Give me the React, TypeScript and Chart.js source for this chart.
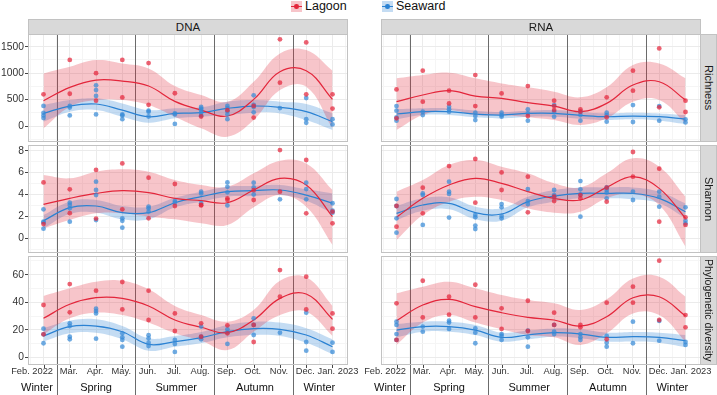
import React, { useEffect, useRef } from "react";
import { Chart, registerables } from "chart.js";
Chart.register(...registerables);

const FONT = "'Liberation Sans', Arial, Helvetica, sans-serif";

// ---------- categories / labels ----------
const months = ["Feb. 2022", "Mar.", "Apr.", "May.", "Jun.", "Jul.", "Aug.", "Sep.", "Oct.", "Nov.", "Dec.", "Jan. 2023"];
const monthIdx = months.map((_, i) => i);
const xMinor = [-0.5, 0.5, 1.5, 2.5, 3.5, 4.5, 5.5, 6.5, 7.5, 8.5, 9.5, 10.5, 11.5];
const seasons = ["Winter", "Spring", "Summer", "Autumn", "Winter"];
const seasonCenters = [-0.25, 2, 5.05, 8.05, 10.5];
const seasonBreaks = [0.52, 3.5, 6.5, 9.5];
const sites = ["Lagoon", "Seaward"];
const columns = ["DNA", "RNA"];
const rows = ["Richness", "Shannon", "Phylogenetic diversity"];

// ---------- y tick labels ----------
const richTicks = [0, 500, 1000, 1500];
const richMinor = [-250, 250, 750, 1250];
const shanTicks = [0, 2, 4, 6, 8];
const shanMinor = [-1, 1, 3, 5, 7];
const phyTicks = [0, 20, 40, 60];
const phyMinor = [10, 30, 50, 70];

// ---------- DNA Richness ----------
const dnaRichLagoonPts = [[600], [1250, 610], [1000, 480], [1250, 540], [1190, 400], [620], [180], [300], [380, 160], [1640, 820], [1580, 600], [600, 330]];
const dnaRichSeawardPts = [[380, 250, 200, 150], [380, 350, 200], [770, 680, 570, 220], [220, 200, 130], [290, 270, 180], [240, 220, 40], [360, 330, 300, 250, 200], [380, 340, 280, 220, 130], [580, 400, 360, 260], [340], [530, 130, 60], [130, 30]];
const dnaRichLagoonFit = [479, 731, 869, 850, 756, 466, 302, 189, 504, 1027, 1046, 504];
const dnaRichLagoonUp = [995, 1121, 1247, 1184, 1090, 756, 586, 460, 838, 1373, 1436, 1046];
const dnaRichLagoonLo = [-44, 365, 491, 491, 397, 176, -44, -202, 113, 680, 743, -44];
const dnaRichSeawardFit = [240, 378, 416, 302, 176, 240, 252, 334, 378, 353, 271, 82];
const dnaRichSeawardUp = [397, 491, 523, 428, 302, 334, 353, 460, 491, 460, 416, 239];
const dnaRichSeawardLo = [82, 271, 302, 176, 63, 145, 176, 208, 252, 239, 113, -76];

// ---------- RNA Richness ----------
const rnaRichLagoonPts = [[693, 145], [1046, 460], [668, 428], [964, 378], [617], [756, 189], [479, 378, 302], [315, 271], [542, 164], [1046, 668], [1468, 353], [479, 265]];
const rnaRichSeawardPts = [[378, 290, 164, 101], [271, 208], [365, 315, 271], [252, 189, 113], [252, 208, 176], [315, 240, 101], [397, 271, 176], [271, 208, 101], [252, 208, 82], [397, 76], [378, 101], [126, 69]];
const rnaRichLagoonFit = [460, 586, 668, 567, 523, 441, 378, 271, 428, 775, 838, 491];
const rnaRichLagoonUp = [901, 964, 1008, 901, 806, 731, 649, 542, 731, 1153, 1184, 901];
const rnaRichLagoonLo = [-76, 208, 302, 208, 208, 164, 113, 19, 145, 460, 491, 50];
const rnaRichSeawardFit = [227, 271, 271, 227, 208, 240, 240, 202, 176, 189, 176, 132];
const rnaRichSeawardUp = [315, 334, 334, 290, 265, 290, 302, 265, 239, 252, 239, 208];
const rnaRichSeawardLo = [126, 208, 208, 164, 145, 176, 176, 139, 113, 126, 101, 38];

// ---------- DNA Shannon ----------
const dnaShanLagoonPts = [[5.1, 1.3], [4.47, 2.3], [6.24, 1.8], [6.84, 2.65], [5.54, 1.83], [4.96, 2.95], [3.0, 3.05], [3.65, 3.5], [4.4, 3.5], [8.06, 4.26], [7.15, 2.28], [2.43, 1.37]];
const dnaShanSeawardPts = [[2.65, 1.52, 1.45, 0.88], [3.25, 3.04, 2.74, 1.52], [5.17, 4.41, 3.95, 1.67], [1.83, 1.6, 0.97], [2.9, 2.74, 2.43], [3.4, 3.25], [4.26, 4.1, 3.2], [5.1, 4.7, 4.2, 3.0], [5.08, 4.65, 4.0], [3.56], [5.08, 4.5, 3.56], [3.2, 2.52, 2.34]];
const dnaShanLagoonFit = [3.1, 3.65, 4.1, 4.35, 4.17, 3.65, 3.44, 3.25, 4.41, 5.48, 4.87, 1.98];
const dnaShanLagoonUp = [5.78, 5.48, 6.08, 6.3, 6.08, 5.32, 4.87, 4.71, 5.93, 7.09, 6.84, 4.41];
const dnaShanLagoonLo = [0.91, 1.67, 2.28, 2.28, 1.98, 1.73, 1.37, 1.22, 2.83, 3.95, 2.89, -0.6];
const dnaShanSeawardFit = [1.61, 2.8, 2.95, 2.34, 2.34, 3.25, 3.8, 4.26, 4.35, 4.41, 3.95, 3.2];
const dnaShanSeawardUp = [2.13, 3.35, 3.5, 2.95, 2.89, 3.71, 4.26, 4.71, 4.78, 4.87, 4.47, 4.1];
const dnaShanSeawardLo = [0.91, 2.22, 2.34, 1.73, 1.73, 2.83, 3.35, 3.8, 3.86, 3.95, 3.44, 2.28];

// ---------- RNA Shannon ----------
const rnaShanLagoonPts = [[2.95, 1.06], [4.62, 2.28], [6.6], [7.24, 3.25], [6.02, 4.41], [5.63, 2.37], [3.8, 3.4], [3.95, 3.65], [4.62, 3.35], [7.88, 5.63], [6.36, 1.52], [1.92, 1.22]];
const rnaShanSeawardPts = [[3.59, 2.95, 1.83, 0.52], [4.1, 3.95, 1.22], [5.17, 4.26, 4.05, 1.89], [2.13, 1.92, 1.16, 0.85], [3.13, 2.83, 2.04, 1.83], [4.5, 3.4, 3.13], [4.41, 3.95, 3.8], [5.23, 4.47, 4.0, 1.98], [4.65, 4.41, 4.17, 3.65], [4.26, 3.5], [4.26, 3.8, 2.89], [2.83, 1.61, 1.37]];
const rnaShanLagoonFit = [1.92, 3.65, 4.87, 5.48, 5.02, 4.26, 3.65, 3.5, 4.65, 5.63, 4.56, 1.83];
const rnaShanLagoonUp = [4.26, 5.32, 6.69, 7.15, 6.54, 5.93, 5.02, 4.65, 5.93, 7.3, 6.54, 3.8];
const rnaShanLagoonLo = [-0.15, 2.13, 3.35, 3.8, 3.5, 2.74, 2.34, 2.43, 3.65, 4.05, 3.04, -0.76];
const rnaShanSeawardFit = [2.28, 3.04, 3.19, 2.34, 2.22, 3.35, 3.86, 4.1, 4.1, 4.1, 3.65, 2.43];
const rnaShanSeawardUp = [2.95, 3.65, 3.74, 2.89, 2.74, 3.8, 4.41, 4.65, 4.65, 4.65, 4.26, 3.19];
const rnaShanSeawardLo = [1.67, 2.52, 2.65, 1.73, 1.61, 2.83, 3.35, 3.65, 3.65, 3.56, 3.2, 1.83];

// ---------- DNA Phylogenetic diversity ----------
const dnaPhyLagoonPts = [[38, 16.7], [53.2, 32.7], [48.4], [54.7, 34.8], [48.4, 27.1], [31.9, 19.1], [24.7, 15], [23.2, 17.4], [23.5, 11.1], [63.4, 44], [58.6, 34.8], [31.9, 20.8]];
const dnaPhySeawardPts = [[20.8, 16.7, 10.2], [24.7, 22.7, 15, 13.1], [35.3, 33.6, 31.9, 13.5], [17.4, 14.5, 12.6, 7.7], [16, 13.8, 10.6, 8.2], [12.6, 9.7, 3.9], [22.3, 15, 13.1], [20.3, 18.1, 9.7], [28.3, 23.5, 16.2], [17.9], [32.4, 11.1, 4.8], [10.6, 3.9]];
const dnaPhyLagoonFit = [28.3, 38.5, 43.3, 42.8, 37.3, 27.1, 21.8, 17.9, 27.1, 42.8, 46, 27.6];
const dnaPhyLagoonUp = [44.5, 50.1, 54.9, 55.6, 49.4, 37.3, 30.7, 25.9, 34.4, 55.6, 58.1, 37.3];
const dnaPhyLagoonLo = [16.7, 28.3, 32.4, 30.7, 25.2, 17.4, 12.1, 5.3, 18.6, 30.7, 33.1, 15.5];
const dnaPhySeawardFit = [15.5, 22.3, 22.7, 18.6, 9.4, 11.4, 14.3, 18.6, 20.8, 20.3, 16.2, 7.7];
const dnaPhySeawardUp = [21.3, 26.6, 27.6, 22.7, 13.8, 15.5, 18.4, 23.5, 25.9, 25.2, 21.1, 13.1];
const dnaPhySeawardLo = [11.4, 17.4, 17.9, 13.1, 4.8, 7.7, 10.2, 14.5, 16.2, 15.5, 10.6, 2.4];

// ---------- RNA Phylogenetic diversity ----------
const rnaPhyLagoonPts = [[39.2, 12.6], [55.6, 29], [44, 31], [52.7, 29], [35.6, 20.6], [41.1, 19.1], [32.4, 23.5], [23.5, 21.8], [39.7, 13.1], [51.3, 39.7], [70.2, 27.1], [30.7, 21.8]];
const rnaPhySeawardPts = [[25.9, 23.5, 16.9, 12.6], [22.3, 18.6], [26.6, 25.2, 20.6], [21, 17.9, 10.2], [16.9, 15.5, 12.6], [19.4, 14.5, 7.7], [23.5, 18.6, 16.9], [16.9, 14.5, 12.6], [15.5, 10.6, 7.7], [25.9, 10.2], [26.4, 12.1], [11.1, 9]];
const rnaPhyLagoonFit = [26.6, 38, 42.1, 36.8, 32.4, 29, 27.1, 22.7, 29.5, 43.3, 44, 30];
const rnaPhyLagoonUp = [46.5, 51.3, 54.9, 50.1, 45.2, 41.6, 39.2, 34.4, 42.1, 57.3, 58.6, 44];
const rnaPhyLagoonLo = [9, 25.2, 30.7, 25.2, 20.3, 16.2, 14.5, 9, 17.4, 31.9, 30.7, 11.4];
const rnaPhySeawardFit = [19.8, 22.3, 22.3, 19.8, 14.5, 16.2, 17.9, 16.9, 14.5, 15, 14.5, 12.1];
const rnaPhySeawardUp = [24.2, 25.9, 25.9, 23.5, 17.9, 19.4, 21, 20.3, 17.9, 18.4, 17.9, 16.2];
const rnaPhySeawardLo = [14.5, 18.6, 18.6, 16.2, 11.4, 13.1, 15, 13.8, 11.4, 11.4, 10.6, 7.3];

// ---------- styles ----------
const RED_LINE = "#e3263b";
const RED_PT = "rgba(228,38,60,0.72)";
const RED_RIB = "rgba(226,40,60,0.27)";
const BLUE_LINE = "#2b82d3";
const BLUE_PT = "rgba(55,138,215,0.72)";
const BLUE_RIB = "rgba(60,140,215,0.3)";
const GRID_MAJOR = "#ebebeb";
const GRID_MINOR = "#f5f5f5";
const BORDER = "#c2c2c2";

type YCfg = { min: number; max: number; major: number[]; minor: number[] };
const richY: YCfg = { min: -302, max: 1740, major: richTicks, minor: richMinor };
const shanY: YCfg = { min: -1.34, max: 8.52, major: shanTicks, minor: shanMinor };
const phyY: YCfg = { min: -5.6, max: 73.6, major: phyTicks, minor: phyMinor };

type PanelData = {
  row: number; col: number; y: YCfg;
  lp: number[][]; sp: number[][];
  lf: number[]; lu: number[]; ll: number[];
  sf: number[]; su: number[]; sl: number[];
};

const panels: PanelData[] = [
  { row: 0, col: 0, y: richY, lp: dnaRichLagoonPts, sp: dnaRichSeawardPts, lf: dnaRichLagoonFit, lu: dnaRichLagoonUp, ll: dnaRichLagoonLo, sf: dnaRichSeawardFit, su: dnaRichSeawardUp, sl: dnaRichSeawardLo },
  { row: 0, col: 1, y: richY, lp: rnaRichLagoonPts, sp: rnaRichSeawardPts, lf: rnaRichLagoonFit, lu: rnaRichLagoonUp, ll: rnaRichLagoonLo, sf: rnaRichSeawardFit, su: rnaRichSeawardUp, sl: rnaRichSeawardLo },
  { row: 1, col: 0, y: shanY, lp: dnaShanLagoonPts, sp: dnaShanSeawardPts, lf: dnaShanLagoonFit, lu: dnaShanLagoonUp, ll: dnaShanLagoonLo, sf: dnaShanSeawardFit, su: dnaShanSeawardUp, sl: dnaShanSeawardLo },
  { row: 1, col: 1, y: shanY, lp: rnaShanLagoonPts, sp: rnaShanSeawardPts, lf: rnaShanLagoonFit, lu: rnaShanLagoonUp, ll: rnaShanLagoonLo, sf: rnaShanSeawardFit, su: rnaShanSeawardUp, sl: rnaShanSeawardLo },
  { row: 2, col: 0, y: phyY, lp: dnaPhyLagoonPts, sp: dnaPhySeawardPts, lf: dnaPhyLagoonFit, lu: dnaPhyLagoonUp, ll: dnaPhyLagoonLo, sf: dnaPhySeawardFit, su: dnaPhySeawardUp, sl: dnaPhySeawardLo },
  { row: 2, col: 1, y: phyY, lp: rnaPhyLagoonPts, sp: rnaPhySeawardPts, lf: rnaPhyLagoonFit, lu: rnaPhyLagoonUp, ll: rnaPhyLagoonLo, sf: rnaPhySeawardFit, su: rnaPhySeawardUp, sl: rnaPhySeawardLo },
];

// ---------- layout ----------
const rowCanvas = [
  { top: 34, height: 111, padBottom: 3 },
  { top: 145, height: 111, padBottom: 3 },
  { top: 256, height: 139, padBottom: 30 },
];
const colCanvas = [
  { left: 0, width: 360, padLeft: 0, padRight: 12, yW: 28 },
  { left: 350, width: 367, padLeft: 31, padRight: 16, yW: 0 },
];
const panelRows = [
  { top: 34, height: 108 },
  { top: 145, height: 108 },
  { top: 256, height: 109 },
];
const panelCols = [
  { left: 28, width: 320 },
  { left: 381, width: 320 },
];

const toPts = (arr: number[][]) => arr.flatMap((vals, i) => vals.map((v) => ({ x: i, y: v })));
const toCurve = (arr: number[]) => arr.map((v, i) => ({ x: i, y: v }));

const zeroPad = (s: any) => {
  s.paddingTop = 0;
  s.paddingBottom = 0;
  s.paddingLeft = 0;
  s.paddingRight = 0;
};

function Panel({ p }: { p: PanelData }) {
  const ref = useRef<HTMLCanvasElement | null>(null);
  const rc = rowCanvas[p.row];
  const cc = colCanvas[p.col];
  const isBottom = p.row === 2;
  const showY = p.col === 0;

  useEffect(() => {
    if (!ref.current) return;
    const curveBase = { pointRadius: 0, tension: 0.4, borderWidth: 0, borderColor: "transparent" };
    const deco = {
      id: "deco",
      beforeDatasetsDraw(chart: any) {
        const { ctx, chartArea } = chart;
        const xs = chart.scales.x;
        ctx.save();
        ctx.strokeStyle = "#6b6b6b";
        ctx.lineWidth = 1;
        seasonBreaks.forEach((b) => {
          const x = Math.round(xs.getPixelForValue(b)) + 0.5;
          ctx.beginPath();
          ctx.moveTo(x, chartArea.top);
          ctx.lineTo(x, chart.height);
          ctx.stroke();
        });
        ctx.restore();
      },
      afterDraw(chart: any) {
        const { ctx, chartArea } = chart;
        const xs = chart.scales.x;
        ctx.save();
        ctx.strokeStyle = BORDER;
        ctx.lineWidth = 1;
        ctx.strokeRect(chartArea.left + 0.5, chartArea.top + 0.5, chartArea.right - chartArea.left - 1, chartArea.bottom - chartArea.top - 1);
        if (isBottom) {
          const b = chartArea.bottom;
          ctx.strokeStyle = "#444";
          monthIdx.forEach((i) => {
            const x = Math.round(xs.getPixelForValue(i)) + 0.5;
            ctx.beginPath();
            ctx.moveTo(x, b);
            ctx.lineTo(x, b + 3);
            ctx.stroke();
          });
          ctx.fillStyle = "#333";
          ctx.font = `9.3px ${FONT}`;
          ctx.textBaseline = "middle";
          months.forEach((m, i) => {
            const x = xs.getPixelForValue(i);
            if (i === 0) {
              ctx.textAlign = "right";
              ctx.fillText(m, x + 9.5, b + 6);
            } else if (i === months.length - 1) {
              ctx.textAlign = "center";
              ctx.fillText(m, x + 5.5, b + 6);
            } else {
              ctx.textAlign = "center";
              ctx.fillText(m, x - 1, b + 6);
            }
          });
          ctx.fillStyle = "#111";
          ctx.font = `11px ${FONT}`;
          ctx.textAlign = "center";
          seasons.forEach((s, i) => {
            ctx.fillText(s, xs.getPixelForValue(seasonCenters[i]), b + 23);
          });
        }
        ctx.restore();
      },
    };

    const chart = new Chart(ref.current, {
      type: "line",
      data: {
        datasets: [
          { label: sites[0], data: toPts(p.lp), showLine: false, pointRadius: 2.4, pointHoverRadius: 2.4, pointBackgroundColor: RED_PT, pointBorderWidth: 0, order: 0 } as any,
          { label: sites[1], data: toPts(p.sp), showLine: false, pointRadius: 2.4, pointHoverRadius: 2.4, pointBackgroundColor: BLUE_PT, pointBorderWidth: 0, order: 0 },
          { label: "fitL", data: toCurve(p.lf), borderColor: RED_LINE, borderWidth: 1.2, pointRadius: 0, tension: 0.4, fill: false, order: 1 },
          { label: "fitS", data: toCurve(p.sf), borderColor: BLUE_LINE, borderWidth: 1.2, pointRadius: 0, tension: 0.4, fill: false, order: 1 },
          { label: "upL", data: toCurve(p.lu), ...curveBase, fill: "+1", backgroundColor: RED_RIB, order: 2 },
          { label: "loL", data: toCurve(p.ll), ...curveBase, fill: false, order: 2 },
          { label: "upS", data: toCurve(p.su), ...curveBase, fill: "+1", backgroundColor: BLUE_RIB, order: 2 },
          { label: "loS", data: toCurve(p.sl), ...curveBase, fill: false, order: 2 },
        ],
      },
      options: {
        animation: false,
        responsive: false,
        devicePixelRatio: 1,
        events: [],
        layout: { autoPadding: false, padding: { left: cc.padLeft, right: cc.padRight, top: 0, bottom: rc.padBottom } },
        plugins: { legend: { display: false }, tooltip: { enabled: false } },
        scales: {
          x: {
            type: "linear",
            bounds: "data",
            min: -0.59,
            max: 11.59,
            afterBuildTicks: (s: any) => {
              s.ticks = [...monthIdx, ...xMinor].sort((a, b) => a - b).map((v) => ({ value: v }));
            },
            afterFit: (s: any) => { s.height = 0; zeroPad(s); },
            ticks: { display: false, autoSkip: false },
            grid: {
              drawTicks: false,
              lineWidth: 1,
              color: (ctx: any) => (Number.isInteger(ctx.tick?.value) ? GRID_MAJOR : GRID_MINOR),
            },
            border: { display: false },
          },
          y: {
            type: "linear",
            bounds: "data",
            min: p.y.min,
            max: p.y.max,
            afterBuildTicks: (s: any) => {
              s.ticks = [...p.y.major, ...p.y.minor].filter((v) => v >= p.y.min && v <= p.y.max).sort((a, b) => a - b).map((v) => ({ value: v }));
            },
            afterFit: (s: any) => { s.width = cc.yW; zeroPad(s); },
            ticks: {
              display: showY,
              autoSkip: false,
              padding: 1,
              color: "#333",
              font: { size: 10.3, family: FONT },
              callback: (v: any) => (p.y.major.includes(Number(v)) ? String(v) : ""),
            },
            grid: {
              drawTicks: showY,
              tickLength: 3,
              lineWidth: 1,
              tickColor: (ctx: any) => (p.y.major.includes(ctx.tick?.value) ? "#444" : "transparent"),
              color: (ctx: any) => (p.y.major.includes(ctx.tick?.value) ? GRID_MAJOR : GRID_MINOR),
            },
            border: { display: false },
          },
        },
      } as any,
      plugins: [deco],
    });
    return () => chart.destroy();
  }, []);

  return (
    <canvas
      ref={ref}
      width={cc.width}
      height={rc.height}
      style={{ position: "absolute", left: cc.left, top: rc.top, width: cc.width, height: rc.height }}
    />
  );
}

function LegendKey({ left, fill, line, label, textLeft }: { left: number; fill: string; line: string; label: string; textLeft: number }) {
  return (
    <>
      <div style={{ position: "absolute", left, top: 1, width: 11, height: 11, background: fill }}>
        <div style={{ position: "absolute", left: 0, top: 5, width: 11, height: 1.3, background: line }} />
        <div style={{ position: "absolute", left: 3.3, top: 3.3, width: 4.6, height: 4.6, borderRadius: "50%", background: line }} />
      </div>
      <div style={{ position: "absolute", left: textLeft, top: 0, fontSize: 12.5, lineHeight: "13px", color: "#111", whiteSpace: "nowrap" }}>{label}</div>
    </>
  );
}

export default function App() {
  const stripStyle: React.CSSProperties = {
    position: "absolute",
    background: "#d9d9d9",
    boxSizing: "border-box",
    border: `1px solid ${BORDER}`,
    color: "#1a1a1a",
    display: "flex",
    alignItems: "center",
    justifyContent: "center",
    overflow: "hidden",
    whiteSpace: "nowrap",
  };
  return (
    <div style={{ position: "absolute", left: 0, top: 0, width: 717, height: 395, background: "#fff", fontFamily: FONT, overflow: "hidden" }}>
      <LegendKey left={291} fill={RED_RIB} line={RED_LINE} label={sites[0]} textLeft={305} />
      <LegendKey left={382} fill={BLUE_RIB} line={BLUE_LINE} label={sites[1]} textLeft={396} />
      {panels.map((p, i) => (
        <Panel key={i} p={p} />
      ))}
      {columns.map((c, i) => (
        <div key={c} style={{ ...stripStyle, left: panelCols[i].left, top: 19, width: panelCols[i].width, height: 16, fontSize: 11.5 }}>{c}</div>
      ))}
      {rows.map((r, i) => (
        <div key={r} style={{ ...stripStyle, left: 700, top: panelRows[i].top, width: 17, height: panelRows[i].height, fontSize: i === 2 ? 10.6 : 11, writingMode: "vertical-rl" as any }}>{r}</div>
      ))}
    </div>
  );
}
